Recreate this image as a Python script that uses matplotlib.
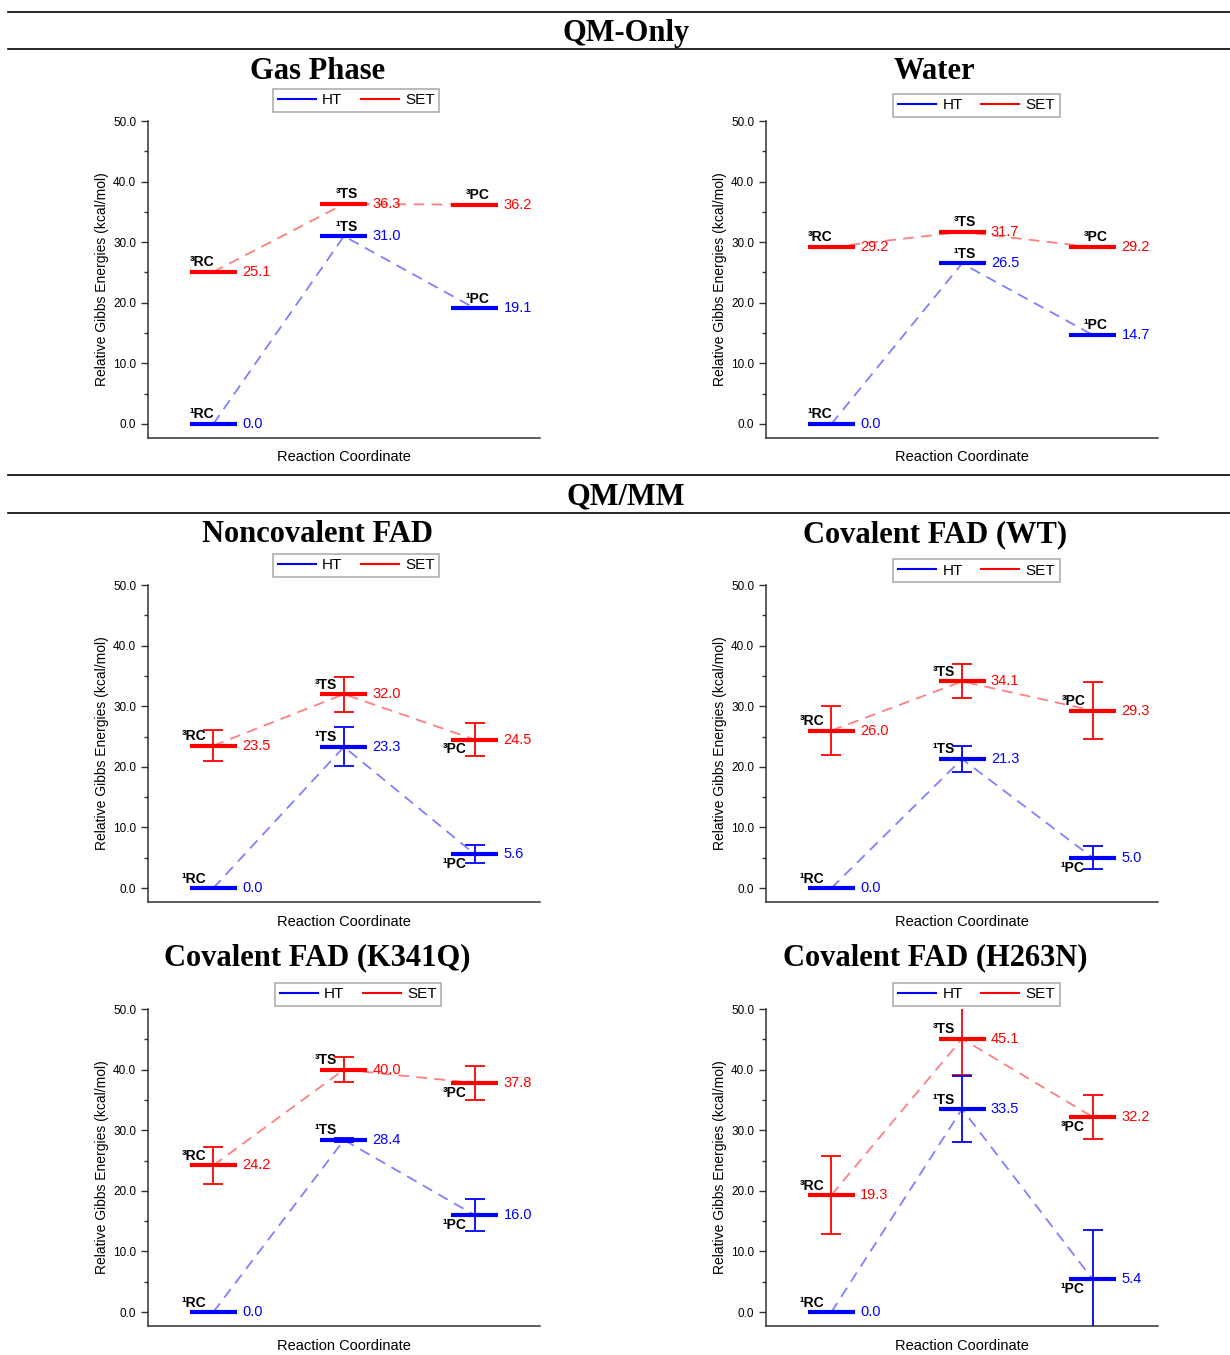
import matplotlib
matplotlib.use('Agg')
import matplotlib.pyplot as plt
from matplotlib.lines import Line2D
import numpy as np

plt.rcParams['font.family'] = ['Liberation Sans', 'DejaVu Sans']

# reaction states
states = ['RC', 'TS', 'PC']

# QM-only
gas_ht = [0.0, 31.0, 19.1]
gas_set = [25.1, 36.3, 36.2]
water_ht = [0.0, 26.5, 14.7]
water_set = [29.2, 31.7, 29.2]

# QM/MM (with error bars)
noncov_ht = [0.0, 23.3, 5.6]
noncov_ht_err = [0.0, 3.2, 1.5]
noncov_set = [23.5, 32.0, 24.5]
noncov_set_err = [2.6, 2.9, 2.7]

wt_ht = [0.0, 21.3, 5.0]
wt_ht_err = [0.0, 2.2, 1.9]
wt_set = [26.0, 34.1, 29.3]
wt_set_err = [4.0, 2.8, 4.7]

k341q_ht = [0.0, 28.4, 16.0]
k341q_ht_err = [0.0, 0.3, 2.6]
k341q_set = [24.2, 40.0, 37.8]
k341q_set_err = [3.1, 2.1, 2.8]

h263n_ht = [0.0, 33.5, 5.4]
h263n_ht_err = [0.0, 5.5, 8.1]
h263n_set = [19.3, 45.1, 32.2]
h263n_set_err = [6.4, 6.0, 3.7]

titles = ['Gas Phase', 'Water', 'Noncovalent FAD', 'Covalent FAD (WT)',
          'Covalent FAD (K341Q)', 'Covalent FAD (H263N)']

BLUE = '#0000ff'
RED = '#ff0000'
HW = 0.18  # half width of a level

fig = plt.figure(figsize=(12.3, 13.55), dpi=100)

# axes rectangles (figure fraction)
lefts = [0.1203, 0.6228]
bottoms = [0.6768, 0.3343, 0.0214]
W, H = 0.3187, 0.2339
leg_y = [1.065, 1.049, 1.062, 1.046, 1.046, 1.046]
leg_x = [0.531, 0.537, 0.531, 0.537, 0.536, 0.537]

panels = [
    (gas_ht, None, gas_set, None, 'qm', ['up', 'up', 'up'], ['up', 'up', 'up']),
    (water_ht, None, water_set, None, 'qm', ['up', 'up', 'up'], ['up', 'up', 'up']),
    (noncov_ht, noncov_ht_err, noncov_set, noncov_set_err, 'mm', ['up', 'up', 'down'], ['up', 'up', 'down']),
    (wt_ht, wt_ht_err, wt_set, wt_set_err, 'mm', ['up', 'up', 'down'], ['up', 'up', 'up']),
    (k341q_ht, k341q_ht_err, k341q_set, k341q_set_err, 'mm', ['up', 'up', 'down'], ['up', 'up', 'down']),
    (h263n_ht, h263n_ht_err, h263n_set, h263n_set_err, 'mm', ['up', 'up', 'down'], ['up', 'up', 'down']),
]

x = np.array([1, 2, 3])

for i, (ht, hte, st, ste, kind, ht_side, st_side) in enumerate(panels):
    row, col = i // 2, i % 2
    ax = fig.add_axes([lefts[col], bottoms[row], W, H])

    for vals, errs, color, mult, sides in [(st, ste, RED, '³', st_side),
                                           (ht, hte, BLUE, '¹', ht_side)]:
        # dashed connectors between level centres
        ax.plot(x, vals, ls=(0, (6, 4)), color=color, alpha=0.5, lw=1.3, zorder=2)
        # levels
        ax.hlines(vals, x - HW, x + HW, colors=color, lw=3, zorder=3)
        if errs is not None:
            for xi, v, e in zip(x, vals, errs):
                if e > 0:
                    ax.errorbar(xi, v, yerr=e, color=color, lw=1.3, capsize=7,
                                capthick=1.3, fmt='none', zorder=4)
        for j, (xi, v) in enumerate(zip(x, vals)):
            ax.text(xi + HW + 0.04, v, f'{v:.1f}', color=color, fontsize=10.5,
                    va='center', ha='left', zorder=5)
            lab = mult + states[j]
            if kind == 'qm':
                if j == 0:
                    ax.annotate(lab, (xi - HW, v), xytext=(0, 4), textcoords='offset points',
                                ha='left', va='baseline', fontsize=10, fontweight='bold')
                else:
                    ax.annotate(lab, (xi, v), xytext=(2, 4), textcoords='offset points',
                                ha='center', va='baseline', fontsize=10, fontweight='bold')
            else:
                if sides[j] == 'up':
                    ax.annotate(lab, (xi, v), xytext=(-5, 4), textcoords='offset points',
                                ha='right', va='baseline', fontsize=10, fontweight='bold')
                else:
                    ax.annotate(lab, (xi, v), xytext=(-6, -2), textcoords='offset points',
                                ha='right', va='top', fontsize=10, fontweight='bold')

    ax.set_xlim(0.5, 3.5)
    ax.set_ylim(-2.3, 50)
    ax.set_yticks(np.arange(0, 51, 10))
    ax.set_yticklabels([f'{t:.1f}' for t in np.arange(0, 51, 10)], fontsize=8.5)
    ax.set_yticks(np.arange(5, 50, 10), minor=True)
    ax.set_xticks([])
    ax.tick_params(axis='y', which='major', direction='out', length=5, width=1, color='#333333')
    ax.tick_params(axis='y', which='minor', direction='out', length=3, width=1, color='#333333')
    for s in ['top', 'right']:
        ax.spines[s].set_visible(False)
    for s in ['left', 'bottom']:
        ax.spines[s].set_linewidth(1.1)
        ax.spines[s].set_color('#333333')
    ax.set_ylabel('Relative Gibbs Energies (kcal/mol)', fontsize=10, labelpad=3)
    ax.set_xlabel('Reaction Coordinate', fontsize=10.5, labelpad=9)

    handles = [Line2D([], [], color=BLUE, lw=1.5), Line2D([], [], color=RED, lw=1.5)]
    leg = ax.legend(handles, ['HT', 'SET'], loc='center', bbox_to_anchor=(leg_x[i], leg_y[i]),
                    ncol=2, fontsize=11, frameon=True, fancybox=False,
                    handlelength=2.5, columnspacing=1.2, handletextpad=0.4,
                    borderpad=0.3, borderaxespad=0, edgecolor='#999999')
    leg.get_frame().set_linewidth(1.2)

    title_x = [0.258, 0.760][col]
    title_y = [0.947, 0.6056, 0.2930][row]
    fig.text(title_x, title_y, titles[i], ha='center', va='center', fontsize=22,
             fontweight='bold', family='Liberation Serif')

# section header lines and titles
for yy in [0.9911, 0.9638, 0.6494, 0.6214]:
    fig.add_artist(Line2D([0.0065, 1.0], [yy, yy], color='black', lw=1.2,
                          transform=fig.transFigure))
fig.text(0.509, 0.975, 'QM-Only', ha='center', va='center', fontsize=22,
         fontweight='bold', family='Liberation Serif')
fig.text(0.509, 0.633, 'QM/MM', ha='center', va='center', fontsize=22,
         fontweight='bold', family='Liberation Serif')

fig.savefig('out.png', dpi=100)
